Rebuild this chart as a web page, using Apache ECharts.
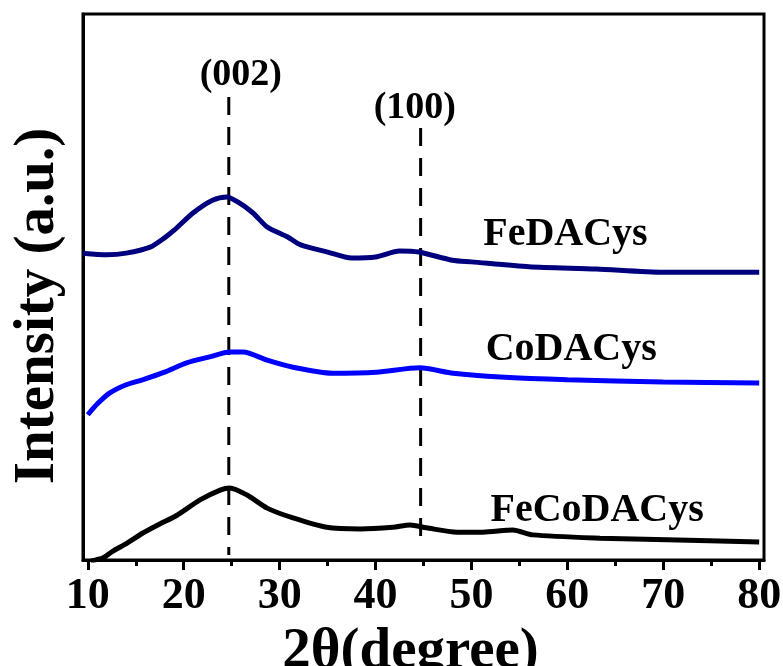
<!DOCTYPE html>
<html>
<head>
<meta charset="utf-8">
<script src="https://cdn.jsdelivr.net/npm/echarts@6/dist/echarts.min.js"></script>
<style>html,body{margin:0;padding:0;background:#fff;}#c{width:783px;height:666px;}</style>
</head>
<body>
<div id="c"></div>
<script>
// ---- data ----
var majorTicks = [10, 20, 30, 40, 50, 60, 70, 80];
var minorTicks = [15, 25, 35, 45, 55, 65, 75];

var feX = [9.5, 12, 14, 16.5, 18, 19, 21, 23, 24.5, 25.8, 27.2, 28.7, 30.8, 32.2, 35, 37.5, 40, 42.5, 44.5, 48, 50, 56, 63, 70, 80];
var feY = [56.2, 55.9, 56.2, 57.3, 59.0, 60.4, 63.6, 65.9, 66.5, 65.4, 63.6, 61.0, 59.2, 57.7, 56.4, 55.3, 55.5, 56.6, 56.4, 54.9, 54.6, 53.7, 53.3, 52.7, 52.7];

var coX = [10, 11, 12.3, 14, 15.7, 18, 20.3, 22.7, 24.8, 26.2, 28.7, 31.4, 35.5, 40.1, 44.6, 48.1, 53, 60, 70, 80];
var coY = [26.6, 28.6, 30.6, 32.1, 33.0, 34.4, 36.1, 37.2, 38.1, 38.1, 36.6, 35.3, 34.2, 34.4, 35.2, 34.2, 33.5, 33.0, 32.6, 32.4];

var fecoX = [10.3, 11.6, 12.5, 14.1, 15.7, 17.5, 19.3, 21.7, 23.8, 24.8, 26.6, 28.7, 31.4, 34.9, 38.4, 41.8, 43.6, 45.3, 48.5, 51.2, 54.3, 56.4, 63.4, 70.4, 80];
var fecoY = [-0.2, 0.4, 1.5, 3.1, 4.9, 6.6, 8.2, 11.0, 12.8, 13.2, 11.9, 9.5, 7.7, 6.0, 5.7, 6.0, 6.4, 5.9, 5.1, 5.1, 5.5, 4.6, 4.0, 3.7, 3.3];

var peakNames = ['(002)', '(100)'];
var peakPos = [24.7, 44.7];
var peakTop = [84.8, 79.1];
var peakBottom = [0.9, 2.2];
var peakLabelX = [25.95, 44.1];
var peakLabelY = [88.8, 82.8];

var sampleNames = ['FeDACys', 'CoDACys', 'FeCoDACys'];
var sampleLabelX = [59.8, 60.4, 63.1];
var sampleLabelY = [59.5, 38.5, 9.0];

var xName = '2θ(degree)';
var yName = 'Intensity (a.u.)';

// ---- build ----
function zip(a, b) { return a.map(function (v, i) { return [v, b[i]]; }); }
var FONT = '"Liberation Serif", "Times New Roman", serif';

var series = [];
var colors = ['#00007f', '#0000ff', '#000000'];
[[feX, feY], [coX, coY], [fecoX, fecoY]].forEach(function (d, i) {
  series.push({
    name: sampleNames[i], type: 'line', xAxisIndex: 0, yAxisIndex: 0,
    data: zip(d[0], d[1]), showSymbol: false, smooth: 0.25,
    lineStyle: { color: colors[i], width: 5 }, itemStyle: { color: colors[i] },
    z: 3
  });
});
peakPos.forEach(function (p, i) {
  series.push({
    type: 'line', xAxisIndex: 0, yAxisIndex: 0,
    data: [[p, peakTop[i]], [p, peakBottom[i]]], showSymbol: false,
    lineStyle: { color: '#000', width: 3, type: [18, 12] }, z: 2, silent: true
  });
});
function labelSeries(names, xs, ys, size) {
  return {
    type: 'scatter', xAxisIndex: 0, yAxisIndex: 0, symbolSize: 1,
    itemStyle: { color: 'rgba(0,0,0,0)', opacity: 1 },
    data: names.map(function (n, i) { return { name: n, value: [xs[i], ys[i]] }; }),
    label: { show: true, position: 'inside', formatter: '{b}', color: '#000', opacity: 1,
      textBorderWidth: 0, fontFamily: FONT, fontWeight: 'bold', fontSize: size },
    z: 5, silent: true
  };
}
series.push(labelSeries(peakNames, peakLabelX, peakLabelY, 38));
series.push(labelSeries(sampleNames, sampleLabelX, sampleLabelY, 40));

var chart = echarts.init(document.getElementById('c'), null, { renderer: 'canvas' });
chart.setOption({
  animation: false,
  backgroundColor: '#fff',
  grid: { left: 83, right: 19, top: 14, bottom: 106, outerBoundsMode: 'none', containLabel: false,
    show: true, borderColor: '#000', borderWidth: 3, backgroundColor: 'transparent' },
  xAxis: [{
    type: 'value', min: 9.5, max: 80.5, position: 'bottom',
    axisLine: { show: true, lineStyle: { color: '#000', width: 3 } },
    axisTick: { show: true, customValues: majorTicks, length: 10, lineStyle: { color: '#000', width: 3 } },
    axisLabel: { show: true, customValues: majorTicks, color: '#000', fontFamily: FONT, fontWeight: 'bold', fontSize: 44, margin: 15 },
    splitLine: { show: false },
    name: xName, nameLocation: 'middle', nameGap: 62,
    nameTextStyle: { color: '#000', fontFamily: FONT, fontWeight: 'bold', fontSize: 57, padding: [0, 26, 0, 0] }
  }, {
    type: 'value', min: 9.5, max: 80.5, position: 'bottom', offset: 0,
    axisLine: { show: false },
    axisTick: { show: true, customValues: minorTicks, length: 6, lineStyle: { color: '#000', width: 3 } },
    axisLabel: { show: false }, splitLine: { show: false }
  }],
  yAxis: [{
    type: 'value', min: 0, max: 100,
    axisLine: { show: true, lineStyle: { color: '#000', width: 3 } },
    axisTick: { show: false }, axisLabel: { show: false }, splitLine: { show: false }
  }],
  graphic: [{
    type: 'text', x: 38, y: 306, rotation: Math.PI / 2,
    style: { text: yName, fill: '#000', font: 'bold 57px ' + FONT, textAlign: 'center', textVerticalAlign: 'middle' }
  }],
  series: series
});
</script>
</body>
</html>
